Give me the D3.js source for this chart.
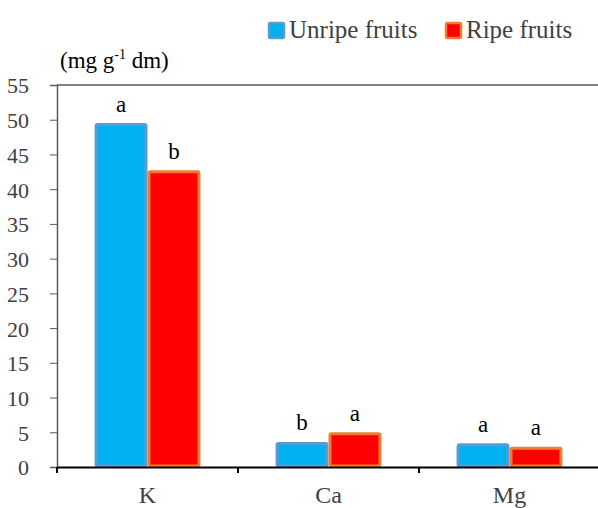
<!DOCTYPE html>
<html>
<head>
<meta charset="utf-8">
<script src="https://d3js.org/d3.v7.min.js"></script>
<style>
  body { margin: 0; background: #fff; }
</style>
</head>
<body>
<svg id="chart" width="598" height="508"></svg>
<script>
// data
const elements = ["K", "Ca", "Mg"];
const seriesNames = ["Unripe fruits", "Ripe fruits"];
const unripe = [49.3, 3.4, 3.2];
const ripe = [42.5, 4.8, 2.7];
const unripeLetters = ["a", "b", "a"];
const ripeLetters = ["b", "a", "a"];
const yTicks = [0, 5, 10, 15, 20, 25, 30, 35, 40, 45, 50, 55];

const fills = ["#00b0f0", "#ff0000"];
const strokes = ["#5b9bd5", "#ed7d31"];
const serif = "'Liberation Serif', 'Times New Roman', serif";

const svg = d3.select("#chart");
const plotLeft = 57, plotRight = 600, plotTop = 85, plotBottom = 467;

const x = d3.scaleBand().domain(elements).range([plotLeft, plotRight]).paddingInner(0).paddingOuter(0);
const sub = d3.scaleBand().domain(seriesNames).range([0, x.bandwidth()]).paddingOuter(0.71).paddingInner(0);
const y = d3.scaleLinear().domain([0, 55]).range([plotBottom, plotTop]);

// top border of the plot
svg.append("line")
    .attr("x1", plotLeft).attr("x2", 598)
    .attr("y1", y(55)).attr("y2", y(55))
    .attr("stroke", "#595959").attr("stroke-width", 1.5);

// y axis
const yAxis = svg.append("g")
    .attr("transform", `translate(${plotLeft},0)`)
    .call(d3.axisLeft(y).tickValues(yTicks).tickSize(7).tickPadding(21));
yAxis.select(".domain").attr("stroke", "#595959").attr("stroke-width", 1.5);
yAxis.selectAll(".tick line").attr("stroke", "#595959");
yAxis.selectAll(".tick text")
    .attr("fill", "#404040")
    .style("font-family", serif)
    .style("font-size", "22px")
    .attr("dy", "0.36em");

// bars
const rows = elements.map((e, i) => ({
    key: e,
    vals: [
        {s: 0, name: seriesNames[0], v: unripe[i], letter: unripeLetters[i]},
        {s: 1, name: seriesNames[1], v: ripe[i], letter: ripeLetters[i]}
    ]
}));

const groups = svg.append("g").selectAll("g")
    .data(rows).join("g")
    .attr("transform", d => `translate(${x(d.key)},0)`);

groups.selectAll("rect")
    .data(d => d.vals).join("rect")
    .attr("x", d => sub(d.name) + 1.5)
    .attr("width", sub.bandwidth() - 3)
    .attr("y", d => y(d.v))
    .attr("height", d => y(0) - y(d.v) - 1)
    .attr("rx", 1.5)
    .attr("fill", d => fills[d.s])
    .attr("stroke", d => strokes[d.s])
    .attr("stroke-width", 3);

groups.selectAll("text.letter")
    .data(d => d.vals).join("text")
    .attr("class", "letter")
    .attr("x", d => sub(d.name) + sub.bandwidth() / 2)
    .attr("y", d => y(d.v) - 13)
    .attr("text-anchor", "middle")
    .style("font-family", serif)
    .style("font-size", "23px")
    .attr("fill", "#000")
    .text(d => d.letter);

// x axis
const xAxis = svg.append("g")
    .attr("transform", `translate(0,${plotBottom})`)
    .call(d3.axisBottom(x).tickSize(0).tickPadding(19));
xAxis.select(".domain").attr("stroke", "#000").attr("stroke-width", 2);
xAxis.selectAll(".tick text")
    .attr("fill", "#404040")
    .style("font-family", serif)
    .style("font-size", "24px");
// category separators
xAxis.selectAll("line.sep")
    .data(elements).join("line")
    .attr("class", "sep")
    .attr("x1", d => x(d)).attr("x2", d => x(d))
    .attr("y1", 0).attr("y2", 6)
    .attr("stroke", "#000").attr("stroke-width", 2);

// unit label
const unit = svg.append("text")
    .attr("x", 60).attr("y", 68)
    .attr("fill", "#000")
    .style("font-family", serif)
    .style("font-size", "23px");
unit.append("tspan").text("(mg g");
unit.append("tspan").attr("dy", -9).style("font-size", "14px").text("-1");
unit.append("tspan").attr("dy", 9).text(" dm)");

// legend
const legendX = [268, 445];
const legend = svg.append("g").selectAll("g")
    .data(seriesNames).join("g")
    .attr("transform", (d, i) => `translate(${legendX[i]},22)`);
legend.append("rect")
    .attr("x", 1).attr("y", 1)
    .attr("width", 15).attr("height", 15)
    .attr("rx", 1.5)
    .attr("fill", (d, i) => fills[i])
    .attr("stroke", (d, i) => strokes[i])
    .attr("stroke-width", 2.5);
legend.append("text")
    .attr("x", 21).attr("y", 16)
    .attr("fill", "#404040")
    .style("font-family", serif)
    .style("font-size", "25px")
    .text(d => d);
</script>
</body>
</html>
